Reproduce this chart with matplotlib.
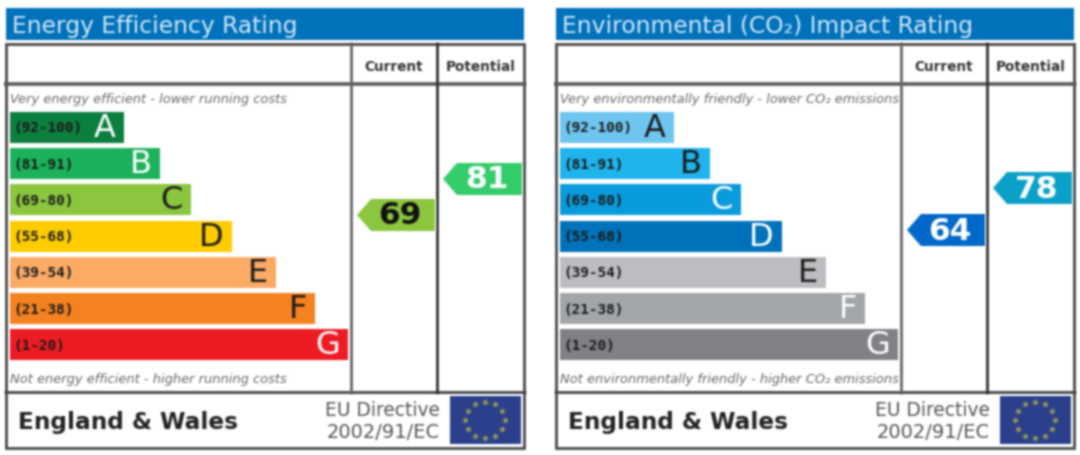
import numpy as np
import matplotlib
matplotlib.use("Agg")
import matplotlib.pyplot as plt
from matplotlib.patches import Polygon, Rectangle

# band data, same for both panels
BANDS = ["A", "B", "C", "D", "E", "F", "G"]
RANGES = ["(92-100)", "(81-91)", "(69-80)", "(55-68)", "(39-54)", "(21-38)", "(1-20)"]
BAR_LENGTHS = [114, 150, 181, 222, 266, 305, 338]

ENERGY_COLORS = ["#0b7f3f", "#1cb25b", "#8cc63f", "#ffcc00", "#fbab66", "#f58220", "#ed1c24"]
ENERGY_LETTERS = ["white", "white", "#1a1a1a", "#1a1a1a", "#1a1a1a", "#1a1a1a", "white"]
ENV_COLORS = ["#6ec6f0", "#1fb5ec", "#0a9bdc", "#0072bc", "#bcbdc0", "#a4a6a8", "#808184"]
ENV_LETTERS = ["#1a1a1a", "#1a1a1a", "white", "white", "#1a1a1a", "white", "white"]

ENERGY_SCORES = [69, 81]
ENERGY_SCORE_COLORS = ["#8cc63f", "#35cc6b"]
ENERGY_SCORE_TEXT = ["#111111", "white"]
ENV_SCORES = [64, 78]
ENV_SCORE_COLORS = ["#0068c8", "#0ba0c8"]
ENV_SCORE_TEXT = ["white", "white"]


def blur(image, dpi):
    # the source is a small upscaled image, soften everything the same way
    # colour is weighted by alpha so edges do not pick up the black background
    kernel = np.array([0.06, 0.24, 0.40, 0.24, 0.06])
    pad = 4
    img = np.pad(image, ((pad, pad), (pad, pad), (0, 0)))
    alpha = img[:, :, 3]
    out = np.dstack([img[:, :, 0] * alpha, img[:, :, 1] * alpha, img[:, :, 2] * alpha, alpha])
    for axis in (0, 1):
        out = np.apply_along_axis(lambda v: np.convolve(v, kernel, mode="same"), axis, out)
    a = np.clip(out[:, :, 3], 1e-6, 1)
    for i in range(3):
        out[:, :, i] = np.clip(out[:, :, i] / a, 0, 1)
    return out, -pad, -pad


def score_y(score):
    return 179 + (81 - score) * 3


def score_arrow(ax, x0, col, score, color, text_color):
    tip = x0 + (357 if col == 0 else 443)
    right = x0 + (435 if col == 0 else 522)
    c = score_y(score)
    pts = [(tip, c), (tip + 14, c - 16), (right, c - 16), (right, c + 16), (tip + 14, c + 16)]
    ax.add_patch(Polygon(pts, closed=True, facecolor=color, edgecolor="none", zorder=3))
    ax.text((tip + 14 + right) / 2 - 3, c + 1, str(score), color=text_color, fontsize=22.5,
            fontweight="bold", ha="center", va="center", zorder=4)


def draw_panel(ax, x0, title, top_note, bottom_note, colors, letters, scores, score_colors, score_text):
    ax.add_patch(Rectangle((x0 + 6, 8), 518, 32, facecolor="#0072bc", edgecolor="none"))
    ax.text(x0 + 12, 26, title, color="#d5e9f6", fontsize=16.8, va="center", ha="left")

    # frame and grid lines
    ax.add_patch(Rectangle((x0 + 6, 44), 518, 404, edgecolor="#4a4a4a", linewidth=2, zorder=2, fill=False))
    ax.plot([x0 + 6, x0 + 524], [84, 84], color="#5a5a5a", lw=2.6, zorder=2)
    ax.plot([x0 + 6, x0 + 524], [392, 392], color="#444444", lw=2, zorder=2)
    ax.plot([x0 + 351, x0 + 351], [44, 392], color="#666666", lw=2, zorder=2)
    ax.plot([x0 + 437, x0 + 437], [44, 392], color="#333333", lw=2, zorder=2)

    ax.text(x0 + 394, 67, "Current", fontsize=9.8, fontweight="bold", color="#333333", ha="center", va="center")
    ax.text(x0 + 481, 67, "Potential", fontsize=9.8, fontweight="bold", color="#333333", ha="center", va="center")

    clip = Rectangle((x0 + 8, 85), 342, 306, transform=ax.transData)
    for y, note in ((99, top_note), (379, bottom_note)):
        t = ax.text(x0 + 10, y, note, fontsize=9.4, style="italic", color="#666666", ha="left", va="center")
        t.set_clip_path(clip)

    ys = [127.5 + i * 36.2 for i in range(len(BANDS))]
    ax.barh(ys, BAR_LENGTHS, height=31, left=x0 + 10, color=colors, edgecolor="none", zorder=1)
    for y, length, band, rng, letter_color in zip(ys, BAR_LENGTHS, BANDS, RANGES, letters):
        ax.text(x0 + 13, y + 1, rng, fontsize=10.4, family="DejaVu Sans Mono", fontweight="bold",
                color="#1a1a1a", ha="left", va="center", zorder=3)
        ax.text(x0 + 10 + length - 8, y + 1, band, fontsize=23, color=letter_color, ha="right", va="center", zorder=3)

    for col, (score, color, text_color) in enumerate(zip(scores, score_colors, score_text)):
        score_arrow(ax, x0, col, score, color, text_color)

    # footer
    ax.text(x0 + 18, 422, "England & Wales", fontsize=16.7, fontweight="bold", color="#222222", ha="left", va="center")
    ax.text(x0 + 440, 410, "EU Directive", fontsize=13.4, color="#555555", ha="right", va="center")
    ax.text(x0 + 440, 432, "2002/91/EC", fontsize=14, color="#555555", ha="right", va="center")
    ax.add_patch(Rectangle((x0 + 450, 396), 71, 48, facecolor="#2b3f8c", edgecolor="none", zorder=3))
    angles = np.deg2rad(np.arange(0, 360, 30))
    ax.scatter(x0 + 485 + 20 * np.cos(angles), 420 + 18 * np.sin(angles), s=9, color="#c8c83c", linewidths=0, zorder=4)


fig = plt.figure(figsize=(10.8, 4.55), dpi=100, facecolor="white")
ax = fig.add_axes([0, 0, 1, 1])
ax.set_xlim(0, 1080)
ax.set_ylim(455, 0)
ax.axis("off")

draw_panel(ax, 0, "Energy Efficiency Rating",
           "Very energy efficient - lower running costs",
           "Not energy efficient - higher running costs",
           ENERGY_COLORS, ENERGY_LETTERS, ENERGY_SCORES, ENERGY_SCORE_COLORS, ENERGY_SCORE_TEXT)
draw_panel(ax, 550, "Environmental (CO\u2082) Impact Rating",
           "Very environmentally friendly - lower CO\u2082 emissions",
           "Not environmentally friendly - higher CO\u2082 emissions",
           ENV_COLORS, ENV_LETTERS, ENV_SCORES, ENV_SCORE_COLORS, ENV_SCORE_TEXT)

for artist in ax.get_children():
    if artist is not ax.patch and artist.get_visible():
        artist.set_agg_filter(blur)

fig.savefig("out.png", dpi=100)
